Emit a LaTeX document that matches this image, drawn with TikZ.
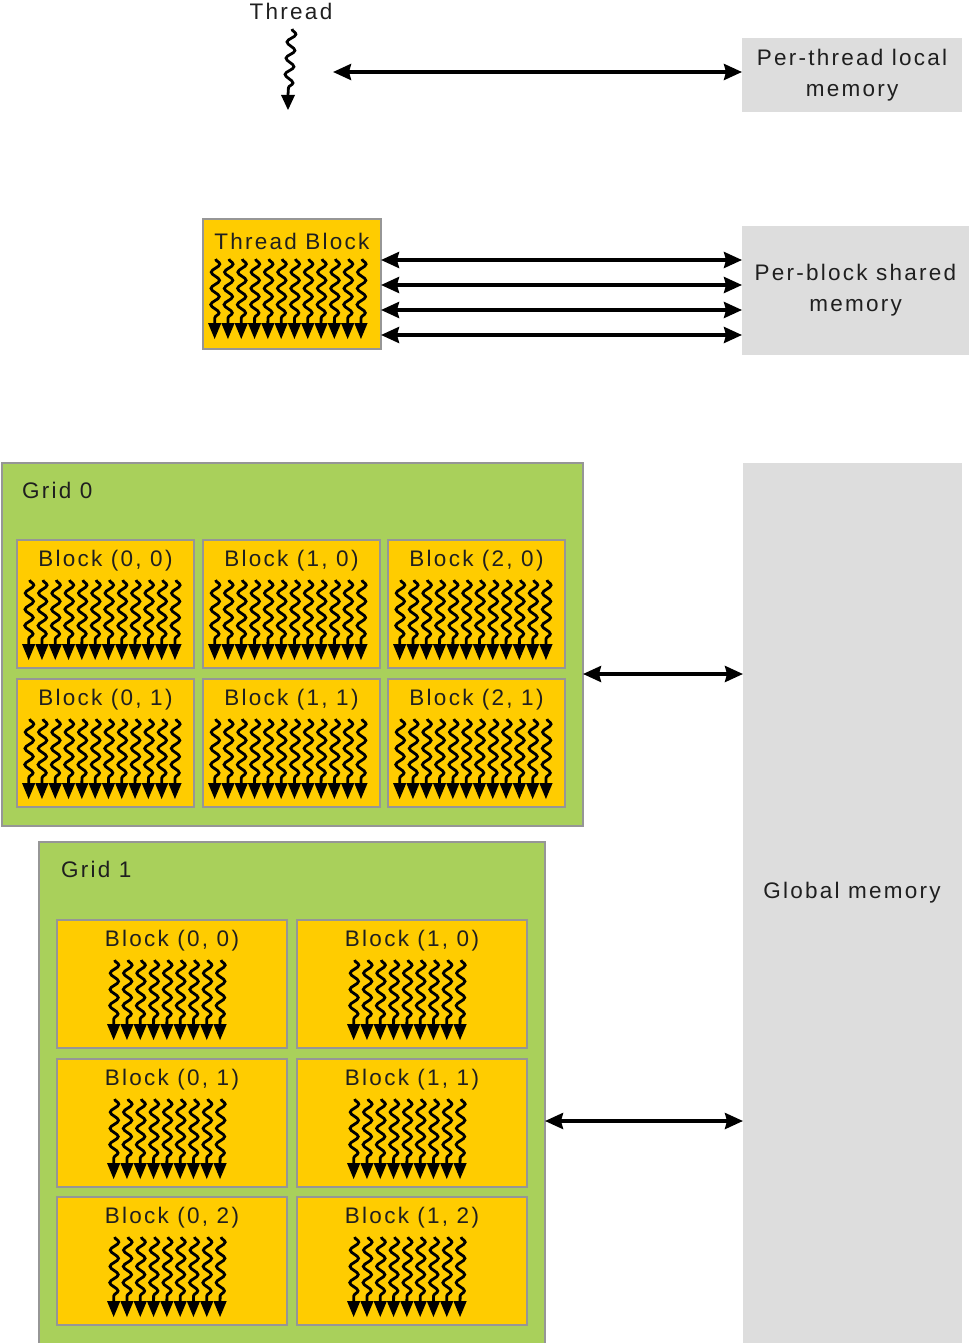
\documentclass[tikz,border=0pt]{standalone}
\usepackage{fontspec}
\setmainfont{Liberation Sans}[LetterSpace=10]
\usepackage{tikz}
\usetikzlibrary{arrows.meta,calc,positioning,decorations.pathmorphing}
\definecolor{gold}{RGB}{255,204,0}
\definecolor{leaf}{RGB}{169,208,91}
\definecolor{mem}{RGB}{221,221,221}
\definecolor{edge}{RGB}{150,150,150}
\newcommand{\threadrow}[3]{%
  \foreach \k in {1,...,#3} {\pgfmathsetmacro{\cx}{#1+6.65+13.3*(\k-1)}
    \draw[thr] (\cx+1,#2+40) -- (\cx,#2+105);
    \fill (\cx-6.65,#2+104) -- (\cx+6.65,#2+104) -- (\cx,#2+120) -- cycle;}}

\begin{document}
\begin{tikzpicture}[x=1pt,y=-1pt,
  txt/.style={font=\fontsize{22.5}{31}\selectfont,text=black!88,inner sep=0pt,align=center},
  blk/.style={draw=edge,line width=2pt,fill=gold,inner sep=0pt,outer sep=0pt,anchor=north west},
  gridbox/.style={draw=edge,line width=2pt,fill=leaf,inner sep=0pt,outer sep=0pt,anchor=north west},
  membox/.style={fill=mem,inner sep=0pt,outer sep=0pt,anchor=north west,font=\fontsize{22.5}{31}\selectfont,text=black!88,align=center},
  thr/.style={line width=2.8pt,decorate,decoration={snake,amplitude=4.2pt,segment length=16.25pt}},
  conn/.style={line width=3.4pt,{Stealth[length=18pt,width=16pt,inset=2pt]}-{Stealth[length=18pt,width=16pt,inset=2pt]}}]
  \useasboundingbox (0,0) rectangle (969,1343);
  \node[txt] (thrl) at (291,11) {Thread};
  \coordinate (thrtop) at (292,29);
  \coordinate (thrbot) at (288,95);
  \draw[thr] (thrtop) -- (thrbot);
  \fill (thrbot) ++(-7,0) -- ++(14,0) -- ++(-7,15) -- cycle;
  \node[membox,minimum width=220pt,minimum height=74pt] (ltmem) at (742,38) {Per-thread local\\memory};
  \coordinate (thra) at (333,72);
  \draw[conn] (thra) -- (ltmem.west |- thra);

  \node[blk,minimum width=178pt,minimum height=130pt] (tb) at (203,219) {};
  \node[txt] (tbl) at ($(tb.north)+(0,22)$) {Thread Block};
  \threadrow{208}{219}{12}
  \node[membox,minimum width=227pt,minimum height=129pt] (shmem) at (742,226) {Per-block shared\\memory};
  \foreach \yy in {260,285,310,335} \draw[conn] (tb.east |- 0,\yy) -- (shmem.west |- 0,\yy);

  \node[membox,minimum width=219pt,minimum height=880pt] (glob) at (743,463) {};
  \node[txt] (globl) at (852,893) {Global memory};

  \node[gridbox,minimum width=581pt,minimum height=363pt] (grid0) at (2,463) {};
  \node[txt,anchor=west] (grid0l) at (22,490) {Grid 0};
  \foreach \i/\xx in {0/17,1/203,2/388} \foreach \j/\yy in {0/540,1/679} {
    \node[blk,minimum width=177pt,minimum height=128pt] (a\i\j) at (\xx,\yy) {};
    \node[txt] (a\i\j l) at ($(a\i\j.north)+(0,21)$) {Block (\i, \j)};
    \threadrow{\xx+5}{\yy}{12}}
  \draw[conn] (grid0.east |- 0,674) -- (glob.west |- 0,674);

  \node[gridbox,minimum width=506pt,minimum height=502pt] (grid1) at (39,842) {};
  \node[txt,anchor=west] (grid1l) at (61,869) {Grid 1};
  \foreach \i/\xx in {0/57,1/297} \foreach \j/\yy in {0/920,1/1059,2/1197} {
    \node[blk,minimum width=230pt,minimum height=128pt] (b\i\j) at (\xx,\yy) {};
    \node[txt] (b\i\j l) at ($(b\i\j.north)+(0,21)$) {Block (\i, \j)};
    \threadrow{\xx+50}{\yy}{9}}
  \draw[conn] (grid1.east |- 0,1121) -- (glob.west |- 0,1121);
\end{tikzpicture}
\end{document}
